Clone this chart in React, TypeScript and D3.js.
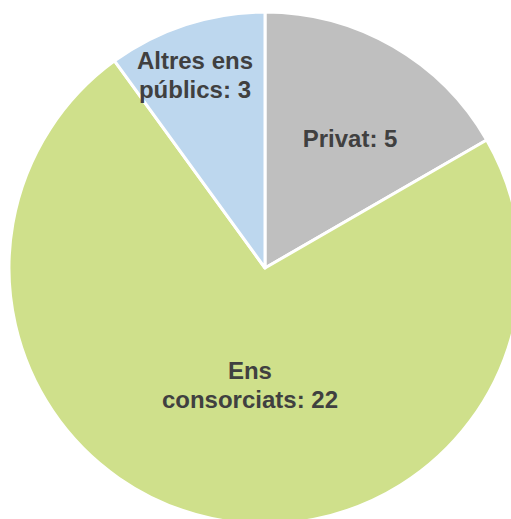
import React from "react";
import * as d3 from "d3";

const categories = ["Privat", "Ens consorciats", "Altres ens públics"];
const values = [5, 22, 3];
const labelLines = [["Privat: 5"], ["Ens", "consorciats: 22"], ["Altres ens", "públics: 3"]];
const colors = ["#BFBFBF", "#CFE08B", "#BDD7EE"];
// label placement: radius fraction and angle offset (deg) relative to slice bisector
const labelRadius = [0.605, 0.463, 0.8];
const labelAngleOffset = [3.3, -4.7, -2];

const W = 511;
const H = 519;
const cx = 265;
const cy = 268;
const R = 256;
const fontSize = 24;
const lineHeight = 29;

export default function App() {
  const pie = d3.pie<number>().sort(null).value((d) => d)(values);
  const arc = d3.arc<d3.PieArcDatum<number>>().innerRadius(0).outerRadius(R);
  return (
    <svg
      width={W}
      height={H}
      style={{ position: "absolute", left: 0, top: 0, display: "block" }}
    >
      <rect width={W} height={H} fill="#ffffff" />
      <g transform={`translate(${cx},${cy})`}>
        {pie.map((p, i) => (
          <path
            key={categories[i]}
            d={arc(p) || ""}
            fill={colors[i]}
            stroke="#ffffff"
            strokeWidth={3}
            strokeLinejoin="round"
          />
        ))}
        {pie.map((p, i) => {
          const a = (p.startAngle + p.endAngle) / 2 + (labelAngleOffset[i] * Math.PI) / 180;
          const r = R * labelRadius[i];
          const x = r * Math.sin(a);
          const y = -r * Math.cos(a);
          const lines = labelLines[i];
          const capH = fontSize * 0.68;
          const y0 = y - ((lines.length - 1) * lineHeight) / 2 + capH / 2;
          return (
            <text
              key={"l" + i}
              textAnchor="middle"
              fontFamily="'Liberation Sans', Arial, sans-serif"
              fontWeight="bold"
              fontSize={fontSize}
              fill="#404040"
            >
              {lines.map((ln, j) => (
                <tspan key={j} x={x} y={y0 + j * lineHeight}>
                  {ln}
                </tspan>
              ))}
            </text>
          );
        })}
      </g>
    </svg>
  );
}
